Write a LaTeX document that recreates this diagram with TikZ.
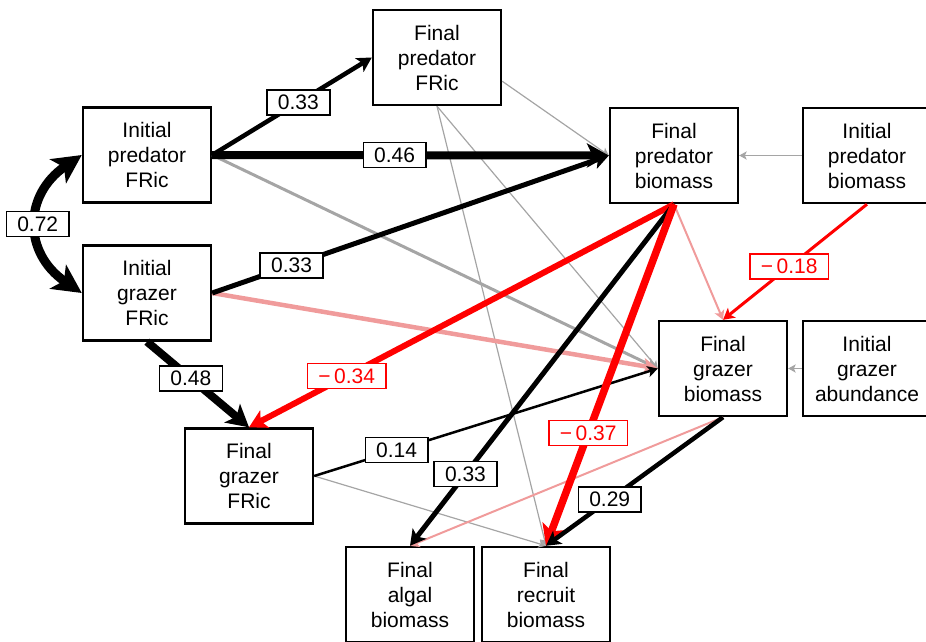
\documentclass[tikz,border=0pt]{standalone}
\usepackage{fontspec}
\setmainfont{Liberation Sans}
\usetikzlibrary{arrows.meta}
\definecolor{cred}{RGB}{255,0,0}
\definecolor{cpink}{RGB}{240,155,155}
\definecolor{cgray}{RGB}{165,165,165}
\begin{document}
\begin{tikzpicture}[x=1pt,y=-1pt,
  box/.style={draw, line width=2.4pt, minimum width=128pt, minimum height=95pt, inner sep=0pt, align=center, font=\fontsize{21}{25}\selectfont},
  lab/.style={draw=black, text=black, fill=white, line width=1.4pt, minimum height=25pt, inner xsep=11pt, inner ysep=0pt, font=\fontsize{21}{25}\selectfont},
  rlab/.style={lab, draw=cred, text=cred},
  arr/.style={-{Stealth[length=5pt 2.1, width'=0pt 1.1, inset'=0pt 0.25]}},
  dblarr/.style={{Stealth[length=8pt 2.3, width'=0pt 1.0, inset'=0pt 0.25]}-{Stealth[length=8pt 2.3, width'=0pt 1.0, inset'=0pt 0.25]}},
  gline/.style={arr, cgray, line width=1.2pt}
]
\useasboundingbox (0,0) rectangle (926,641);
% boxes
\node[box] (IPF) at (147,155) {Initial\\predator\\FRic};
\node[box] (IGF) at (147,293) {Initial\\grazer\\FRic};
\node[box] (FPF) at (437,57.5) {Final\\predator\\FRic};
\node[box] (FPB) at (674,155.5) {Final\\predator\\biomass};
\node[box] (IPB) at (867,155.5) {Initial\\predator\\biomass};
\node[box] (FGB) at (723,368.5) {Final\\grazer\\biomass};
\node[box] (IGA) at (867,368.5) {Initial\\grazer\\abundance};
\node[box] (FGF) at (249,476) {Final\\grazer\\FRic};
\node[box] (FAB) at (410,594.5) {Final\\algal\\biomass};
\node[box] (FRB) at (546,594.5) {Final\\recruit\\biomass};
% thin gray connectors
\draw[gline] (FPF.-20) -- (FPB.west);
\draw[gline] (FPF.south) -- (FGB.west);
\draw[gline] (FPF.south) -- (FRB.north);
\draw[gline] (FGF.east) -- (FRB.north);
\draw[gline] (IPB.west) -- (FPB.east);
\draw[gline] (IGA.west) -- (FGB.east);
\draw[arr, cgray, line width=3pt] (IPF.east) -- (FGB.west);
% pink connectors
\draw[arr, cpink, line width=4.5pt] (IGF.east) -- (FGB.west);
\draw[arr, cpink, line width=2pt] (FPB.south) -- (FGB.north);
\draw[arr, cpink, line width=2pt] (FGB.south) -- (FAB.north);
% labelled connectors
\draw[arr, line width=4.5pt] (IPF.east) -- node[lab,pos=0.54]{0.33} (FPF.west);
\draw[arr, line width=8pt] (IPF.east) -- node[lab,pos=0.46]{0.46} (FPB.west);
\draw[arr, line width=5pt] (IGF.east) -- node[lab,pos=0.2]{0.33} (FPB.west);
\draw[arr, line width=8pt] (IGF.south) -- node[lab,pos=0.43]{0.48} (FGF.north);
\draw[arr, cred, line width=6pt] (FPB.south) -- node[rlab,pos=0.77]{−\,0.34} (FGF.north);
\draw[arr, line width=2.5pt] (FGF.east) -- node[lab,pos=0.24]{0.14} (FGB.west);
\draw[arr, line width=5pt] (FPB.south) -- node[lab,pos=0.79]{0.33} (FAB.north);
\draw[arr, cred, line width=7.5pt] (FPB.south) -- node[rlab,pos=0.67]{−\,0.37} (FRB.north);
\draw[arr, line width=4.5pt] (FGB.south) -- node[lab,pos=0.64]{0.29} (FRB.north);
\draw[arr, cred, line width=3pt] (IPB.south) -- node[rlab,pos=0.54]{−\,0.18} (FGB.north);
% correlation
\draw[dblarr, line width=9pt] (IPF.west) .. controls (23,195) and (23,253) .. node[lab,pos=0.5]{0.72} (IGF.west);
\end{tikzpicture}
\end{document}
